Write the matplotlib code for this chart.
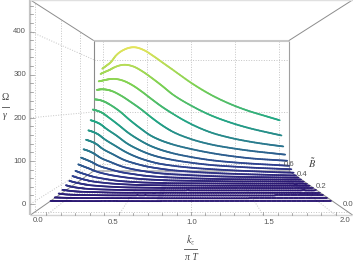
import numpy as np
import matplotlib
matplotlib.use('Agg')
import matplotlib.pyplot as plt
from matplotlib.collections import LineCollection
from matplotlib.colors import LinearSegmentedColormap

# wavevector grid shared by all curves
k_vals = [0, .045, .1, .15, .26, .36, .47, .575, .68, .79, 1, 1.21, 1.425, 1.635, 1.85, 2]

# one row per field value, front to back
b_vals = [0, .03, .06, .09, .12, .15, .18, .21, .24, .27, .3, .33, .36, .39, .42, .45, .48, .51, .54, .57]
omega_vals = [
    [.5, .4, .3, .3, .2, .2, .2, .2, .1, .1, .1, .1, .1, .1, .1, .1],
    [2, 1.5, 1, .8, .5, .4, .3, .3, .2, .2, .2, .1, .1, .1, .1, .1],
    [5, 3, 2, 1.5, 1, .5, .4, .3, .3, .2, .2, .2, .1, .1, .1, .1],
    [8, 6, 4, 3, 2, 1, .5, .4, .3, .3, .2, .2, .2, .1, .1, .1],
    [14, 10, 7, 5, 3, 2, 1, .5, .4, .3, .3, .2, .2, .2, .1, .1],
    [20, 16, 12, 9, 5.5, 3.5, 2, 1.5, 1, .5, .4, .3, .3, .2, .2, .2],
    [28, 23, 18, 14, 9, 6, 4, 2.5, 2, 1.5, 1, .5, .4, .3, .3, .2],
    [37.6, 32, 26, 21, 14, 9, 6, 4, 3, 2, 1.5, 1, .5, .4, .3, .3],
    [52, 46, 39, 32, 22, 16, 11, 8, 6, 4.5, 3, 2, 1, 1, .5, .5],
    [68, 62, 54, 45, 33, 24, 18, 13, 10, 8, 5, 3, 2, 1.5, 1, 1],
    [90, 85, 76, 65, 49, 36, 27, 21, 16, 13, 9, 6, 4, 3, 2, 1.5],
    [117, 112, 103, 90, 70, 53, 41, 32, 26, 21, 15, 11, 8, 6, 4, 3],
    [145, 140, 131, 118, 95, 75, 58, 46, 37, 31, 23, 18, 14, 11, 8, 6.7],
    [177, 172, 163, 150, 125, 100, 80, 65, 54, 46, 35, 27, 22, 18, 15, 13],
    [212, 208, 200, 188, 160, 133, 109, 90, 76, 65, 50, 39, 32, 27, 23, 20],
    [247, 245, 239, 230, 205, 176, 147, 122, 105, 92, 74, 60, 49, 41, 36, 33],
    [281, 283, 282, 278, 260, 238, 212, 184, 158, 135, 106, 87, 74, 64, 56, 50.6],
    [313, 316, 320, 322, 316, 300, 275, 248, 222, 198, 158, 128, 108, 94, 83, 76.5],
    [342, 349, 357, 366, 376, 370, 350, 325, 298, 268, 225, 190, 163, 142, 125, 114],
    [364, 375, 390, 412, 438, 445, 434, 412, 387, 361, 311, 268, 233, 206, 184, 169],
]

k_ticks = [0, .5, 1, 1.5, 2]
b_ticks = [0, .2, .4, .6]
z_ticks = [0, 100, 200, 300, 400]

cmap = LinearSegmentedColormap.from_list('h', ['#2a1470', '#2f3f8f', '#2a788e', '#22a884', '#7ad151', '#e3e45a'])


# perspective projection onto image pixels
def project(k, b, z):
    s = 1 / (1 + .65 * (.044 + 1.62 * np.asarray(b, dtype=float)))
    x = 191 + s * 144.5 * (np.asarray(k, dtype=float) - 1)
    y = 103 + s * (204 - .431 * np.asarray(z, dtype=float) - 103)
    return x, y


# cubic through the read points so the curve has no corners
def smooth(k, z, n=12):
    m = np.gradient(z, k)
    ks, zs = [], []
    for j in range(len(k) - 1):
        h = k[j + 1] - k[j]
        t = np.linspace(0, 1, n, endpoint=False)
        ks.append(k[j] + t * h)
        zs.append((2*t**3 - 3*t**2 + 1) * z[j] + (t**3 - 2*t**2 + t) * h * m[j]
                  + (-2*t**3 + 3*t**2) * z[j + 1] + (t**3 - t**2) * h * m[j + 1])
    return np.r_[np.concatenate(ks), k[-1]], np.r_[np.concatenate(zs), z[-1]]


def seg(ax, p0, p1, **kw):
    x0, y0 = project(*p0)
    x1, y1 = project(*p1)
    ax.plot([x0, x1], [y0, y1], solid_capstyle='butt', **kw)


fig = plt.figure(figsize=(3.53, 2.64), dpi=100)
ax = fig.add_axes([0, 0, 1, 1])
ax.set_xlim(0, 353)
ax.set_ylim(264, 0)
ax.axis('off')

k_lo, k_hi = -.1107, 2.1176
b_lo, b_hi = -.0272, .5903
z_lo, z_hi = -25.5, 473.3
dot = dict(color='#c4c4c4', lw=.7, ls=(0, (1, 1.6)), zorder=1)

# grid on back wall, left wall and floor
for k in k_ticks:
    seg(ax, (k, b_hi, z_lo), (k, b_hi, z_hi), **dot)
    seg(ax, (k, b_lo, z_lo), (k, b_hi, z_lo), **dot)
for z in [0, 200, 400]:
    seg(ax, (k_lo, b_hi, z), (k_hi, b_hi, z), **dot)
    seg(ax, (k_lo, b_lo, z), (k_lo, b_hi, z), **dot)
for b in b_ticks[:3]:
    seg(ax, (k_lo, b, z_lo), (k_lo, b, z_hi), **dot)
    seg(ax, (k_lo, b, z_lo), (k_hi, b, z_lo), **dot)

# box edges
seg(ax, (k_lo, b_hi, z_hi), (k_hi, b_hi, z_hi), color='#c8c8c8', lw=1.5, zorder=2)
seg(ax, (k_lo, b_hi, z_lo), (k_hi, b_hi, z_lo), color='#b4b4b4', lw=1.2, zorder=2)
seg(ax, (k_lo, b_hi, z_lo), (k_lo, b_hi, z_hi), color='#8a8a8a', lw=.8, zorder=2)
seg(ax, (k_hi, b_hi, z_lo), (k_hi, b_hi, z_hi), color='#a0a0a0', lw=.8, zorder=2)
for k in [k_lo, k_hi]:
    for z in [z_lo, z_hi]:
        seg(ax, (k, b_lo, z), (k, b_hi, z), color='#8c8c8c', lw=.7, zorder=2)

# curves, back to front; faint haze between the flat front ones
k_arr = np.array(k_vals)
for i in range(len(b_vals) - 1, -1, -1):
    ks, zs = smooth(k_arr, np.array(omega_vals[i]))
    x, y = project(ks, b_vals[i], zs)
    if i < 11:
        kn, zn = smooth(k_arr, np.array(omega_vals[i + 1]))
        xn, yn = project(kn, b_vals[i + 1], zn)
        keep = ks > .75
        ax.fill(np.r_[x[keep], xn[keep][::-1]], np.r_[y[keep], yn[keep][::-1]],
                color='#3a2a80', alpha=.16, lw=0, zorder=3)
    pts = np.column_stack([x, y])
    segs = np.stack([pts[:-1], pts[1:]], axis=1)
    frac = (np.clip(.5 * (zs[:-1] + zs[1:]), 0, None) / 445) ** .55
    lc = LineCollection(segs, colors=cmap(frac), linewidths=1.25, capstyle='round', zorder=4)
    ax.add_collection(lc)

# front frame and ticks
seg(ax, (k_lo, b_lo, z_lo), (k_lo, b_lo, z_hi), color='#c4c4c4', lw=1.6, zorder=6)
seg(ax, (k_lo, b_lo, z_lo), (k_hi, b_lo, z_lo), color='#d4d4d4', lw=1, zorder=6)
seg(ax, (k_lo, b_lo, z_hi), (k_hi, b_lo, z_hi), color='#e0e0e0', lw=1, zorder=6)

for z in np.arange(0, 461, 20):
    tl = 4 if z % 100 == 0 else 2.5
    x0, y0 = project(k_lo, b_lo, z)
    ax.plot([x0, x0 + tl], [y0, y0], color='#8a8a8a', lw=.5, zorder=7)
for k in np.arange(0, 2.01, .1):
    x0, y0 = project(k, b_lo, z_lo)
    tl = 2.5 if round(k * 10) % 5 == 0 else 1.5
    ax.plot([x0, x0], [y0, y0 - tl], color='#8a8a8a', lw=.5, zorder=7)

txt = dict(fontsize=5.6, color='#555555', family='Liberation Sans', ha='center', va='center')
for z, yp in zip(z_ticks, [204.5, 161.5, 118, 74.5, 31.5]):
    ax.text(26, yp, str(z), **dict(txt, ha='right'), zorder=8)
for k, xp in zip(k_ticks, [38.5, 113.5, 191.5, 269, 344.5]):
    ax.text(xp, 222.5 if k in (.5, 1, 1.5) else 221, f'{k:.1f}', **txt, zorder=8)
for b, (xp, yp) in zip(b_ticks, [(348, 205), (321, 187), (302, 174), (289, 164)]):
    ax.text(xp, yp, f'{b:.1f}', **txt, zorder=8)

lab = dict(fontsize=7, color='#444444', family='Liberation Serif', ha='center', va='center')
ax.text(5, 98, '\u03a9', **lab)
ax.plot([1.5, 8.5], [107, 107], color='#666666', lw=.7)
ax.text(5, 116, '\u03b3', style='italic', **lab)
ax.text(191, 240, r'$k_z$', **dict(lab, fontsize=7.5), math_fontfamily='stix')
ax.plot([184, 197], [249, 249], color='#666666', lw=.7)
ax.text(191, 258, '\u03c0 T', style='italic', **lab)
ax.text(312.5, 163, r'$\tilde{B}$', **dict(lab, fontsize=7.5), math_fontfamily='stix')

fig.savefig('out.png', dpi=100)
